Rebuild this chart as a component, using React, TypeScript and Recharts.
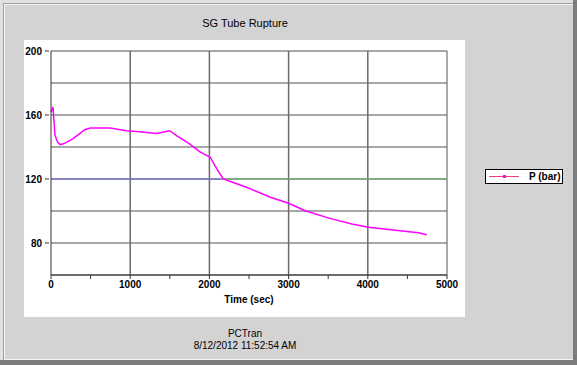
import React from "react";
import {
  LineChart,
  Line,
  XAxis,
  YAxis,
  CartesianGrid,
  ReferenceLine,
} from "recharts";

// Time (sec) and primary pressure P (bar)
const TIME = [
  0, 10, 25, 50, 80, 115, 160, 280, 430, 500, 750, 950, 1120, 1330, 1500,
  1590, 1750, 1880, 2010, 2090, 2175, 2300, 2470, 2770, 3000, 3210, 3520,
  3800, 4010, 4320, 4640, 4745,
];
const PRESSURE = [
  162, 163, 165, 147.5, 143.3, 141.5, 142, 145.2, 151, 151.9, 151.9, 150.2,
  149.6, 148.5, 150.2, 147, 142, 137, 133.6, 126.7, 120, 117.8, 114.8, 108.6,
  104.8, 100.2, 95.4, 91.9, 89.8, 88.1, 86.4, 85.2,
];

const X_TICKS = [0, 500, 1000, 1500, 2000, 2500, 3000, 3500, 4000, 4500, 5000];
const X_LABELS = [0, 1000, 2000, 3000, 4000, 5000];
const X_GRID = [1000, 2000, 3000, 4000, 5000];
const Y_TICKS = [60, 80, 100, 120, 140, 160, 180, 200];
const Y_LABELS = [80, 120, 160, 200];

const data = TIME.map((t, i) => ({ t, p: PRESSURE[i] }));

const FONT = "'Liberation Sans', Arial, sans-serif";

/* eslint-disable @typescript-eslint/no-explicit-any */
function XTick({ x, y, payload }: any) {
  const labeled = X_LABELS.includes(payload.value);
  return (
    <g>
      <line x1={x} x2={x} y1={y - 8} y2={y - 4} stroke="#333" />
      {labeled && (
        <text
          x={x}
          y={y + 5}
          textAnchor="middle"
          fontSize={10}
          fontWeight={700}
          fontFamily={FONT}
          fill="#000"
        >
          {payload.value}
        </text>
      )}
    </g>
  );
}

function YTick({ x, y, payload }: any) {
  if (!Y_LABELS.includes(payload.value)) return <g />;
  return (
    <g>
      <line x1={x + 2} x2={x + 6} y1={y} y2={y} stroke="#333" />
      <text
        x={x - 1}
        y={y + 4}
        textAnchor="end"
        fontSize={10}
        fontWeight={700}
        fontFamily={FONT}
        fill="#000"
      >
        {payload.value}
      </text>
    </g>
  );
}
/* eslint-enable @typescript-eslint/no-explicit-any */

export default function App() {
  return (
    <div
      style={{
        position: "absolute",
        left: 0,
        top: 0,
        width: 577,
        height: 365,
        background: "#e2e2e2",
        fontFamily: FONT,
        overflow: "hidden",
      }}
    >
      {/* outer frame */}
      <div
        style={{
          position: "absolute",
          left: 3,
          top: 3,
          width: 570,
          height: 356,
          background: "#d3d3d3",
          borderTop: "1px solid #a0a0a0",
          borderLeft: "1px solid #a0a0a0",
          boxShadow: "inset 1px 1px 0 #f4f4f4, inset -1px -1px 0 #f4f4f4",
        }}
      />
      <div
        style={{
          position: "absolute",
          left: 0,
          top: 360,
          width: 577,
          height: 5,
          background: "#7c7c7c",
        }}
      />
      <div
        style={{
          position: "absolute",
          left: 573,
          top: 0,
          width: 4,
          height: 365,
          background: "#7c7c7c",
        }}
      />
      {/* white plot panel */}
      <div
        style={{
          position: "absolute",
          left: 24,
          top: 40,
          width: 441,
          height: 277,
          background: "#fff",
        }}
      />
      <div
        style={{
          position: "absolute",
          left: 0,
          top: 17,
          width: 490,
          textAlign: "center",
          fontSize: 11,
          color: "#000",
        }}
      >
        SG Tube Rupture
      </div>
      <div
        style={{
          position: "absolute",
          left: 0,
          top: 294,
          width: 498,
          textAlign: "center",
          fontSize: 10,
          fontWeight: 700,
          color: "#000",
        }}
      >
        Time (sec)
      </div>
      <div
        style={{
          position: "absolute",
          left: 0,
          top: 328,
          width: 490,
          textAlign: "center",
          fontSize: 10,
          lineHeight: "12px",
          color: "#000",
        }}
      >
        PCTran
        <br />
        8/12/2012 11:52:54 AM
      </div>
      {/* legend */}
      <div
        style={{
          position: "absolute",
          left: 485,
          top: 169,
          width: 76,
          height: 13,
          background: "#fff",
          border: "1px solid #000",
        }}
      >
        <div
          style={{
            position: "absolute",
            left: 3,
            top: 6,
            width: 30,
            height: 1,
            background: "#f04070",
          }}
        />
        <div
          style={{
            position: "absolute",
            left: 17,
            top: 5,
            width: 3,
            height: 3,
            background: "#ff00ff",
          }}
        />
        <div
          style={{
            position: "absolute",
            left: 43,
            top: 0,
            fontSize: 10,
            lineHeight: "13px",
            fontWeight: 700,
            color: "#000",
            whiteSpace: "nowrap",
          }}
        >
          P (bar)
        </div>
      </div>
      <div style={{ position: "absolute", left: 0, top: 0 }}>
        <LineChart
          width={577}
          height={365}
          data={data}
          margin={{ top: 51, right: 130, bottom: 60, left: 0 }}
        >
          <CartesianGrid
            vertical={false}
            stroke="#8a8a8a"
            strokeWidth={1.5}
          />
          {X_GRID.map((v) => (
            <ReferenceLine
              key={v}
              x={v}
              stroke={v === 5000 ? "#555" : "#6a6a6a"}
              strokeWidth={v === 5000 ? 1 : 1.5}
            />
          ))}
          <ReferenceLine
            segment={[
              { x: 0, y: 120 },
              { x: 2150, y: 120 },
            ]}
            stroke="#7878c8"
            strokeWidth={1.5}
          />
          <ReferenceLine
            segment={[
              { x: 2150, y: 120 },
              { x: 5000, y: 120 },
            ]}
            stroke="#78a878"
            strokeWidth={1.5}
          />
          <XAxis
            dataKey="t"
            type="number"
            domain={[0, 5000]}
            ticks={X_TICKS}
            interval={0}
            height={30}
            axisLine={{ stroke: "#333" }}
            tickLine={false}
            tick={<XTick />}
          />
          <YAxis
            type="number"
            domain={[60, 200]}
            ticks={Y_TICKS}
            interval={0}
            width={51}
            axisLine={{ stroke: "#333" }}
            tickLine={false}
            tick={<YTick />}
          />
          <Line
            dataKey="p"
            type="linear"
            stroke="#ff00ff"
            strokeWidth={1.5}
            dot={false}
            isAnimationActive={false}
          />
        </LineChart>
      </div>
    </div>
  );
}
